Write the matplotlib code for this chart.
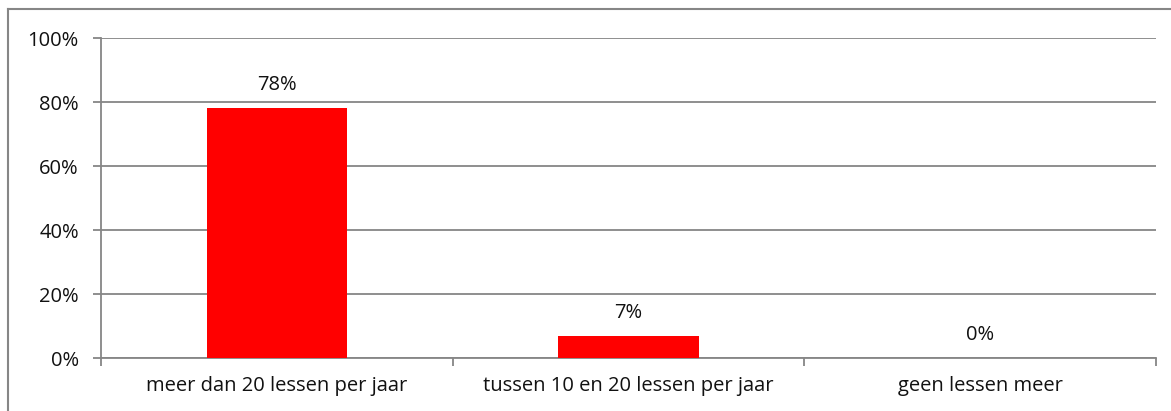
import matplotlib
matplotlib.use("Agg")
import matplotlib.pyplot as plt
from matplotlib.lines import Line2D
from matplotlib.ticker import FuncFormatter, FixedLocator

categories = ["meer dan 20 lessen per jaar", "tussen 10 en 20 lessen per jaar", "geen lessen meer"]
values = [78, 7, 0]
yticks = [0, 20, 40, 60, 80, 100]

W, H = 1171, 411
plt.rcParams['font.family'] = ['Open Sans', 'DejaVu Sans']
fig = plt.figure(figsize=(W / 100, H / 100), dpi=100)
ax = fig.add_axes([101 / W, 1 - 358 / H, (1156 - 101) / W, (358 - 38) / H])

grey = '#868686'
fs = 14.5
tc = '#111111'
x = list(range(len(categories)))
bars = ax.bar(x, values, width=0.4, color='#ff0000', zorder=3)
for xi, v in zip(x, values):
    ax.annotate(f"{v}%", (xi, v), xytext=(0, 16.5), textcoords='offset points',
                ha='center', va='center', fontsize=fs, color=tc)

ax.set_xlim(-0.5, len(categories) - 0.5)
ax.set_ylim(0, 100)
ax.set_yticks(yticks)
ax.yaxis.set_major_formatter(FuncFormatter(lambda v, p: f"{int(v)}%"))
ax.yaxis.grid(True, color=grey, linewidth=1.3, zorder=0)
ax.set_axisbelow(True)

ax.xaxis.set_major_locator(FixedLocator([i - 0.5 for i in range(len(categories) + 1)]))
ax.xaxis.set_major_formatter(FuncFormatter(lambda v, p: ""))
ax.xaxis.set_minor_locator(FixedLocator(x))
ax.set_xticklabels(categories, minor=True)
ax.tick_params(axis='x', which='minor', length=0, pad=13, labelsize=fs, labelcolor=tc)
ax.tick_params(axis='x', which='major', length=6, width=1.3, color=grey, direction='out')
ax.tick_params(axis='y', length=6, width=1.3, color=grey, labelsize=fs, labelcolor=tc, pad=10)

for s in ['top', 'right']:
    ax.spines[s].set_visible(False)
for s in ['left', 'bottom']:
    ax.spines[s].set_color(grey)
    ax.spines[s].set_linewidth(1.3)

fig.add_artist(Line2D([8 / W, 1], [1 - 9 / H, 1 - 9 / H], color=grey, linewidth=1.5, transform=fig.transFigure))
fig.add_artist(Line2D([8 / W, 8 / W], [0, 1 - 9 / H], color=grey, linewidth=1.5, transform=fig.transFigure))

fig.savefig("out.png", dpi=100, facecolor='white')
